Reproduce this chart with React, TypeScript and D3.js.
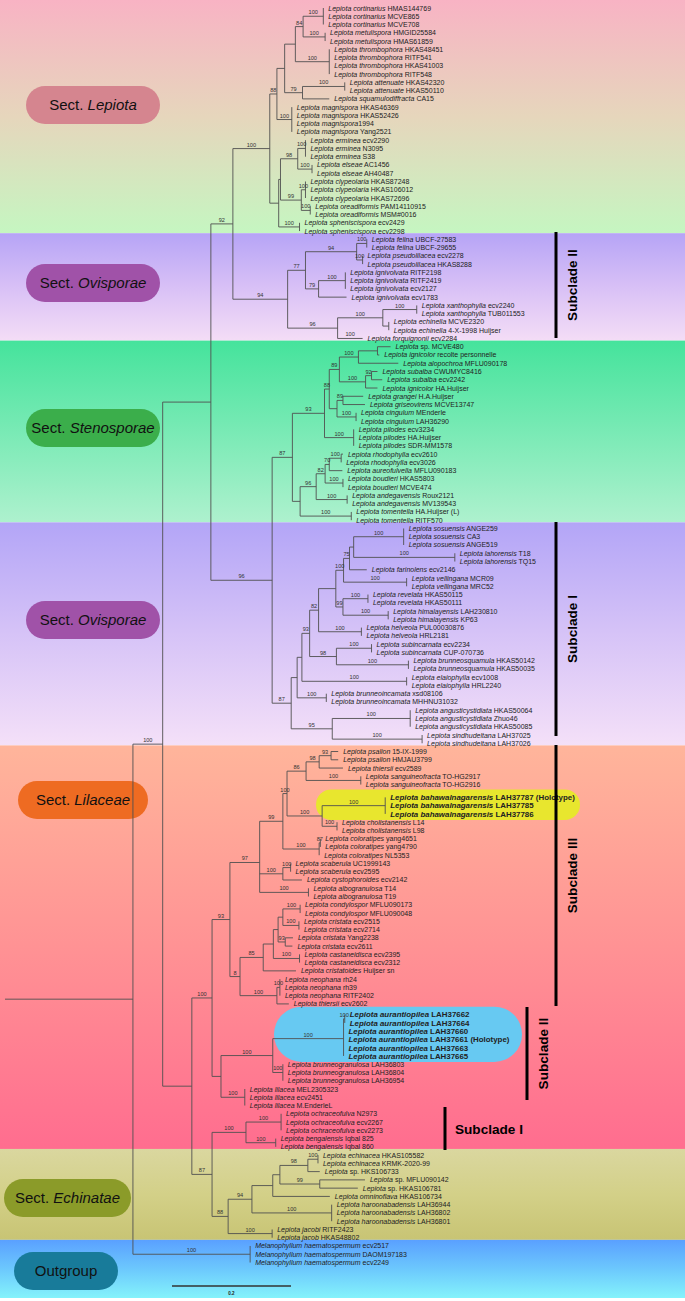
import React from "react";
import * as d3 from "d3";

// ---------------- DATA ----------------
// tip labels: [italic part, regular part]
const lepiotaTips: [string, string][] = [
  ["Lepiota cortinarius", " HMAS144769"], ["Lepiota cortinarius", " MCVE865"], ["Lepiota cortinarius", " MCVE708"],
  ["Lepiota metulispora", " HMGID25584"], ["Lepiota metulispora", " HMAS61859"],
  ["Lepiota thrombophora", " HKAS48451"], ["Lepiota thrombophora", " RITF541"], ["Lepiota thrombophora", " HKAS41003"], ["Lepiota thrombophora", " RITF548"],
  ["Lepiota attenuate", " HKAS42320"], ["Lepiota attenuate", " HKAS50110"], ["Lepiota squamulodiffracta", " CA15"],
  ["Lepiota magnispora", " HKAS46369"], ["Lepiota magnispora", " HKAS52426"], ["Lepiota magnispora", "1994"], ["Lepiota magnispora", " Yang2521"],
  ["Lepiota erminea", " ecv2290"], ["Lepiota erminea", " N3095"], ["Lepiota erminea", " S38"],
  ["Lepiota elseae", " AC1456"], ["Lepiota elseae", " AH40487"],
  ["Lepiota clypeolaria", " HKAS87248"], ["Lepiota clypeolaria", " HKAS106012"], ["Lepiota clypeolaria", " HKAS72696"],
  ["Lepiota oreadiformis", " PAM14110915"], ["Lepiota oreadiformis", " MSM#0016"],
  ["Lepiota spheniscispora", " ecv2429"], ["Lepiota spheniscispora", " ecv2298"],
];
const ovisporaeIITips: [string, string][] = [
  ["Lepiota felina", " UBCF-27583"], ["Lepiota felina", " UBCF-29655"],
  ["Lepiota pseudolilacea", " ecv2278"], ["Lepiota pseudolilacea", " HKAS8288"],
  ["Lepiota ignivolvata", " RITF2198"], ["Lepiota ignivolvata", " RITF2419"], ["Lepiota ignivolvata", " ecv2127"], ["Lepiota ignivolvata", " ecv1783"],
  ["Lepiota xanthophylla", " ecv2240"], ["Lepiota xanthophylla", " TUB011553"],
  ["Lepiota echinella", " MCVE2320"], ["Lepiota echinella", " 4-X-1998 Huijser"], ["Lepiota forquignonii", " ecv2284"],
];
const stenosporaeTips: [string, string][] = [
  ["Lepiota", " sp. MCVE480"], ["Lepiota ignicolor", " recolte personnelle"], ["Lepiota alopochroa", " MFLU090178"],
  ["Lepiota subalba", " CWUMYC8416"], ["Lepiota subalba", " ecv2242"], ["Lepiota ignicolor", " HA.Huijser"],
  ["Lepiota grangei", " H.A.Huijser"], ["Lepiota griseovirens", " MCVE13747"],
  ["Lepiota cingulum", " MEnderle"], ["Lepiota cingulum", " LAH36290"],
  ["Lepiota pilodes", " ecv3234"], ["Lepiota pilodes", " HA.Huijser"], ["Lepiota pilodes", " SDR-MM1578"],
  ["Lepiota rhodophylla", " ecv2610"], ["Lepiota rhodophylla", " ecv3026"], ["Lepiota aureofulvella", " MFLU090183"],
  ["Lepiota boudieri", " HKAS5803"], ["Lepiota boudieri", " MCVE474"],
  ["Lepiota andegavensis", " Roux2121"], ["Lepiota andegavensis", " MV139543"],
  ["Lepiota tomentella", " HA.Huijser (L)"], ["Lepiota tomentella", " RITF570"],
];
const ovisporaeITips: [string, string][] = [
  ["Lepiota sosuensis", " ANGE259"], ["Lepiota sosuensis", " CA3"], ["Lepiota sosuensis", " ANGE519"],
  ["Lepiota lahorensis", " T18"], ["Lepiota lahorensis", " TQ15"], ["Lepiota farinolens", " ecv2146"],
  ["Lepiota vellingana", " MCR09"], ["Lepiota vellingana", " MRC52"],
  ["Lepiota revelata", " HKAS50115"], ["Lepiota revelata", " HKAS50111"],
  ["Lepiota himalayensis", " LAH230810"], ["Lepiota himalayensis", " KP63"],
  ["Lepiota helveola", " PUL00030876"], ["Lepiota helveola", " HRL2181"],
  ["Lepiota subincarnata", " ecv2234"], ["Lepiota subincarnata", " CUP-070736"],
  ["Lepiota brunneosquamula", " HKAS50142"], ["Lepiota brunneosquamula", " HKAS50035"],
  ["Lepiota elaiophylla", " ecv1008"], ["Lepiota elaiophylla", " HRL2240"],
  ["Lepiota brunneoincamata", " xsd08106"], ["Lepiota brunneoincamata", " MHHNU31032"],
  ["Lepiota angusticystidiata", " HKAS50064"], ["Lepiota angusticystidiata", " Zhuo46"], ["Lepiota angusticystidiata", " HKAS50085"],
  ["Lepiota sindhudeltana", " LAH37025"], ["Lepiota sindhudeltana", " LAH37026"],
];
const lilaceaeTips: [string, string][] = [
  ["Lepiota psalion", " 15-IX-1999"], ["Lepiota psalion", " HMJAU3799"], ["Lepiota thiersii", " ecv2589"],
  ["Lepiota sanguineofracta", " TO-HG2917"], ["Lepiota sanguineofracta", " TO-HG2916"],
  ["Lepiota bahawalnagarensis", " LAH37787 (Holotype)"], ["Lepiota bahawalnagarensis", " LAH37785"], ["Lepiota bahawalnagarensis", " LAH37786"],
  ["Lepiota cholistanensis", " L14"], ["Lepiota cholistanensis", " L98"],
  ["Lepiota coloratipes", " yang4651"], ["Lepiota coloratipes", " yang4790"], ["Lepiota coloratipes", " NL5353"],
  ["Lepiota scaberula", " UC1999143"], ["Lepiota scaberula", " ecv2595"], ["Lepiota cystophoroides", " ecv2142"],
  ["Lepiota albogranulosa", " T14"], ["Lepiota albogranulosa", " T19"],
  ["Lepiota condylospor", " MFLU090173"], ["Lepiota condylospor", " MFLU090048"],
  ["Lepiota cristata", " ecv2515"], ["Lepiota cristata", " ecv2714"], ["Lepiota cristata", " Yang2238"], ["Lepiota cristata", " ecv2611"],
  ["Lepiota castaneidisca", " ecv2395"], ["Lepiota castaneidisca", " ecv2312"], ["Lepiota cristatoides", " Huijser sn"],
  ["Lepiota neophana", " rh24"], ["Lepiota neophana", " rh39"], ["Lepiota neophana", " RITF2402"], ["Lepiota thiersii", " ecv2602"],
  ["Lepiota aurantiopilea", " LAH37662"], ["Lepiota aurantiopilea", " LAH37664"], ["Lepiota aurantiopilea", " LAH37660"],
  ["Lepiota aurantiopilea", " LAH37661 (Holotype)"], ["Lepiota aurantiopilea", " LAH37663"], ["Lepiota aurantiopilea", " LAH37665"],
  ["Lepiota brunneogranulosa", " LAH36803"], ["Lepiota brunneogranulosa", " LAH36804"], ["Lepiota brunneogranulosa", " LAH36954"],
  ["Lepiota lilacea", " MEL2305323"], ["Lepiota lilacea", " ecv2451"], ["Lepiota lilacea", " M.EnderleL"],
  ["Lepiota ochraceofulva", " N2973"], ["Lepiota ochraceofulva", " ecv2267"], ["Lepiota ochraceofulva", " ecv2273"],
  ["Lepiota bengalensis", " Iqbal 825"], ["Lepiota bengalensis", " Iqbal 860"],
];
const echinataeTips: [string, string][] = [
  ["Lepiota echinacea", " HKAS105582"], ["Lepiota echinacea", " KRMK-2020-99"], ["Lepiota", " sp. HKS106733"],
  ["Lepiota", " sp. MFLU090142"], ["Lepiota", " sp. HKAS106781"], ["Lepiota omninoflava", " HKAS106734"],
  ["Lepiota haroonabadensis", " LAH36944"], ["Lepiota haroonabadensis", " LAH36802"], ["Lepiota haroonabadensis", " LAH36801"],
  ["Lepiota jacobi", " RITF2423"], ["Lepiota jacob", " HKAS48802"],
];
const outgroupTips: [string, string][] = [
  ["Melanophyllum haematospermum", " ecv2517"], ["Melanophyllum haematospermum", " DAOM197183"], ["Melanophyllum haematospermum", " ecv2249"],
];
const TIPS = [...lepiotaTips, ...ovisporaeIITips, ...stenosporaeTips, ...ovisporaeITips, ...lilaceaeTips, ...echinataeTips, ...outgroupTips];
const BOLD_TIPS = [95, 96, 97, 121, 122, 123, 124, 125, 126];
// extra blank space (in rows) inserted before some tips
const ROW_GAPS: [number, number][] = [[95, 0.55], [121, 0.3]];

// Clades: Newick with tip indices, support values and branch lengths (subst./site)
const cladeLepiota =
  "((((((0:0,1:0,2:0)100:0.034,(3:0,4:0)100:0.037)84:0.013,(5:0,6:0,7:0,8:0)100:0.057):0.018,((9:0,10:0)100:0.071,11:0.045)79:0.030):0.013,(12:0,13:0,14:0,15:0)100:0.025)88:0.012,((((16:0,17:0,18:0)100:0.013,(19:0,20:0)100:0.024)98:0.029,((21:0,22:0,23:0)100:0.007,(24:0,25:0)100:0.015)99:0.035):0.003,(26:0,27:0)100:0.035):0.015)100:0.062";
const cladeOvisporaeII =
  "((((28:0,29:0)100:0.017,(30:0,31:0)100:0.010)94:0.086,((32:0,33:0,34:0)100:0.045,35:0.047)79:0.022)77:0.030,(((36:0,37:0)100:0.057,(38:0,39:0):0.010)100:0.076,40/100:0.042)96:0.084)94:0.092";
const cladeStenosporae =
  "((((((41:0.022,42:0.003):0.032,43:0.067)100:0.032,((44:0.010,45:0.018)92:0.010,46:0.020)100:0.044)89:0.017,((47:0.034,48:0.037)89:0.010,(49:0,50:0)100:0.032):0.013)88:0.008,(51:0,52:0,53:0)100:0.049)93:0.054,(((((54:0.003,55:0)100:0.020,56:0.022)70:0.007,(57:0,58:0)100:0.030)82:0.015,(59:0,60:0)100:0.052)96:0.027,(61:0,62:0)100:0.086):0.013)87:0.034";
const cladeOvisporaeI =
  "((((((((((63:0,64:0,65:0)100:0.084,(66:0,67:0)100:0.170):0.007,68:0.029)75:0.010,(69:0,70:0)100:0.106)100:0.013,((71:0,72:0)100:0.042,(73:0,74:0)100:0.076)99:0.012):0.029,(75:0,76:0)100:0.072)82:0.015,((77:0,78:0)100:0.059,(79:0,80:0)100:0.121)98:0.045)93:0.013,(81:0,82:0)100:0.176):0.008,(83:0,84:0)100:0.049):0.010,((85:0,86:0,87:0)100:0.131,(88:0,89:0)100:0.151)95:0.069)87:0.032";
const cladeLilaceaeIII =
  "(((((((90:0.012,91:0.012)93:0.020,92:0.040)98:0.022,(93:0,94:0)100:0.092)86:0.032,((95:0,96:0,97:0)100:0.106,(98:0,99:0)100:0.025)100:0.059)100:0.007,((100:0,101:0)87:0.002,102:0)100:0.061)99:0.039,((103:0,104:0)100:0.013,105:0.032)100:0.039,(106:0,107:0)100:0.082)97:0.050,((((((108:0,109:0)100:0.029,(110:0,111:0)100:0.027):0.008,(112:0.013,113:0.012)93:0.012):0.008,(114:0,115:0)100:0.044):0.017,116:0.055)85:0.039,((117:0,118:0,119:0)100:0.005,120:0.020)100:0.062)8:0.017)93:0.030";
const cladeLilaceaeII =
  "((((121:0,122:0)100:0.002,123:0,124:0,125:0,126:0)100:0.119,(127:0,128:0,129:0)100:0.017)100:0.087,(130:0,131:0,132:0)100:0.040):0.015";
const cladeLilaceaeI = "((133:0,134:0,135:0)100:0.059,(136:0,137:0)100:0.050)100:0.057";
const cladeEchinatae =
  "((((((138:0,139:0)100:0.017,140:0.020)98:0.047,(141:0.076,142:0.064)99:0.067):0.012,143:0.096):0.035,(144:0,145:0,146:0)100:0.134)94:0.040,(147:0,148:0)100:0.074)88:0.027";
const cladeOutgroup = "(149:0,150:0,151:0)100:0.197";

const TREE =
  "(((" + "(" + cladeLepiota + "," + cladeOvisporaeII + ")92:0.037," +
  "(" + cladeStenosporae + "," + cladeOvisporaeI + ")96:0.103):0.081," +
  "((" + cladeLilaceaeIII + "," + cladeLilaceaeII + ")100:0.034," +
  "(" + cladeLilaceaeI + "," + cladeEchinatae + ")87:0.034):0.049)100:0.050," +
  cladeOutgroup + "):0.215;";

// Sections (background bands and labels)
const SECTIONS = [
  { pre: "Sect. ", name: "Lepiota", first: 0, last: 27, top: "#f8b3c4", mid: "#e6d6bc", bottom: "#c5f6c1", pill: "#d5858f" },
  { pre: "Sect. ", name: "Ovisporae", first: 28, last: 40, top: "#b6a4f6", mid: "#d8c0f6", bottom: "#f4ddf6", pill: "#a052a8" },
  { pre: "Sect. ", name: "Stenosporae", first: 41, last: 62, top: "#45e39c", mid: "#79eab5", bottom: "#aef1ce", pill: "#3bae4b" },
  { pre: "Sect. ", name: "Ovisporae", first: 63, last: 89, top: "#b3a5f7", mid: "#d6c3f7", bottom: "#f4e0f8", pill: "#a052a8" },
  { pre: "Sect. ", name: "Lilaceae", first: 90, last: 137, top: "#ffb59b", mid: "#ff9294", bottom: "#ff6d8f", pill: "#ee6b22" },
  { pre: "Sect. ", name: "Echinatae", first: 138, last: 148, top: "#dad79f", mid: "#d3d088", bottom: "#c8c474", pill: "#8b9b29" },
  { pre: "", name: "Outgroup", first: 149, last: 151, top: "#5aa0ff", mid: "#6cc8fd", bottom: "#84f3fb", pill: "#187b9a" },
];
const SUBCLADES = [
  { label: "Subclade II", first: 28, last: 40, vertical: true },
  { label: "Subclade I", first: 63, last: 89, vertical: true },
  { label: "Subclade III", first: 90, last: 120, vertical: true },
  { label: "Subclade II", first: 121, last: 132, vertical: true },
  { label: "Subclade I", first: 133, last: 137, vertical: false },
];
const HIGHLIGHTS = [
  { first: 95, last: 97, color: "#e8e62e" },
  { first: 121, last: 126, color: "#67c9f2" },
];
const SCALE_BAR = 0.2;

// ---------------- LAYOUT CONSTANTS ----------------
const W = 685, H = 1301;
const FONT = "'Liberation Sans', Arial, Helvetica, sans-serif";
const PILL_BOX = [
  { x0: 26, x1: 160, cy: 105 }, { x0: 26, x1: 160, cy: 283 }, { x0: 26, x1: 160, cy: 428 },
  { x0: 26, x1: 160, cy: 620 }, { x0: 18, x1: 148, cy: 800 }, { x0: 4, x1: 131, cy: 1198 },
  { x0: 14, x1: 118, cy: 1271 },
];
const SUB_BOX = [
  { x: 556, y0: 232, y1: 338 }, { x: 556, y0: 522, y1: 736 }, { x: 556, y0: 745, y1: 1006 },
  { x: 527, y0: 1007, y1: 1100 }, { x: 445, y0: 1107, y1: 1150 },
];
const HL_BOX = [{ x0: 316, x1: 580 }, { x0: 274, x1: 522 }];

type TNode = { children: TNode[]; tip: number; support: string; length: number };

function parseNewick(s: string): TNode {
  let i = 0;
  const stop = ":,();";
  function readLabel() {
    let l = "";
    while (i < s.length && !stop.includes(s[i])) l += s[i++];
    return l.trim();
  }
  function node(): TNode {
    const n: TNode = { children: [], tip: -1, support: "", length: 0 };
    if (s[i] === "(") {
      i++;
      n.children.push(node());
      while (s[i] === ",") { i++; n.children.push(node()); }
      i++;
      n.support = readLabel();
    } else {
      const [t, sup] = readLabel().split("/");
      n.tip = +t;
      n.support = sup || "";
    }
    if (s[i] === ":") { i++; n.length = +readLabel(); }
    return n;
  }
  return node();
}

export default function App() {
  const root = d3.hierarchy(parseNewick(TREE), (d) => (d.children.length ? d.children : null));
  const depth = new Map<any, number>();
  root.eachBefore((n: any) => depth.set(n, (n.parent ? depth.get(n.parent)! : 0) + n.data.length));

  const x = d3.scaleLinear().domain([0, 1]).range([5, 600]);
  const slots: number[] = [];
  let acc = 0;
  TIPS.forEach((_, i) => {
    const g = ROW_GAPS.find((r) => r[0] === i);
    if (g) acc += g[1];
    slots.push(i + acc);
  });
  const y = d3.scaleLinear().domain([0, slots[slots.length - 1]]).range([8, 1262.5]);
  const tipY = (i: number) => y(slots[i]);

  const ypos = new Map<any, number>();
  root.eachAfter((n: any) => {
    if (!n.children) ypos.set(n, tipY(n.data.tip));
    else ypos.set(n, d3.mean(n.children, (c: any) => ypos.get(c)!)!);
  });

  const nodes = root.descendants();
  const lineColor = "#505050";

  const bands = SECTIONS.map((s, k) => {
    const top = k === 0 ? 0 : (tipY(SECTIONS[k - 1].last) + tipY(s.first)) / 2 - 2;
    const bottom = k === SECTIONS.length - 1 ? 1298 : (tipY(s.last) + tipY(SECTIONS[k + 1].first)) / 2 - 2;
    return { ...s, top0: top, bottom0: bottom };
  });

  const rootY = ypos.get(root)!;

  return (
    <div style={{ position: "absolute", left: 0, top: 0, width: W, height: H, background: "#fff" }}>
      <svg width={W} height={H} style={{ display: "block", fontFamily: FONT }}>
        <defs>
          {bands.map((b, k) => (
            <linearGradient key={k} id={"band" + k} x1="0" y1="0" x2="0" y2="1">
              <stop offset="0%" stopColor={b.top} />
              <stop offset="50%" stopColor={b.mid} />
              <stop offset="100%" stopColor={b.bottom} />
            </linearGradient>
          ))}
        </defs>
        {bands.map((b, k) => (
          <rect key={k} x={0} y={b.top0} width={W} height={b.bottom0 - b.top0} fill={`url(#band${k})`} />
        ))}

        {HIGHLIGHTS.map((h, k) => {
          const y0 = tipY(h.first) - 8, y1 = tipY(h.last) + 6;
          return <rect key={k} x={HL_BOX[k].x0} y={y0} width={HL_BOX[k].x1 - HL_BOX[k].x0} height={y1 - y0} rx={(y1 - y0) / 2} fill={h.color} />;
        })}

        {bands.map((b, k) => {
          const p = PILL_BOX[k];
          const h = 38;
          return (
            <g key={k}>
              <rect x={p.x0} y={p.cy - h / 2} width={p.x1 - p.x0} height={h} rx={h / 2} fill={b.pill} />
              <text x={(p.x0 + p.x1) / 2} y={p.cy + 5} textAnchor="middle" fontSize={15} fill="#111" style={{ whiteSpace: "pre" }}>
                {b.pre ? <tspan>{b.pre}</tspan> : null}
                <tspan fontStyle={b.pre ? "italic" : "normal"}>{b.name}</tspan>
              </text>
            </g>
          );
        })}

        <g stroke={lineColor} strokeWidth={0.9} fill="none">
          <line x1={x(0)} x2={x(depth.get(root)!)} y1={rootY} y2={rootY} />
          {nodes.map((n: any, k) => {
            const nx = x(depth.get(n)!), ny = ypos.get(n)!;
            const els = [] as any[];
            if (n.parent) {
              els.push(<line key={"h" + k} x1={x(depth.get(n.parent)!)} x2={nx} y1={ny} y2={ny} />);
            }
            if (n.children) {
              const ys = n.children.map((c: any) => ypos.get(c)!);
              els.push(<line key={"v" + k} x1={nx} x2={nx} y1={d3.min(ys)!} y2={d3.max(ys)!} />);
            }
            return els;
          })}
        </g>

        <g fontSize={5.6} fill="#333" textAnchor="middle">
          {nodes.filter((n: any) => n.parent && n.data.support).map((n: any, k) => {
            const nx = x(depth.get(n)!), px = x(depth.get(n.parent)!), ny = ypos.get(n)!;
            return <text key={k} x={(nx + px) / 2} y={ny - 2}>{n.data.support}</text>;
          })}
        </g>

        <g fill="#222">
          {root.leaves().map((n: any, k) => {
            const i = n.data.tip;
            const bold = BOLD_TIPS.includes(i);
            const [it, rg] = TIPS[i];
            return (
              <text key={k} x={x(depth.get(n)!) + 5} y={tipY(i) + (bold ? 2.8 : 2.5)} fontSize={bold ? 7.9 : 7} fontWeight={bold ? "bold" : "normal"} style={{ whiteSpace: "pre" }}>
                <tspan fontStyle="italic">{it}</tspan>
                <tspan>{rg}</tspan>
              </text>
            );
          })}
        </g>

        {SUBCLADES.map((s, k) => {
          const b = SUB_BOX[k];
          const cy = (b.y0 + b.y1) / 2;
          return (
            <g key={k}>
              <line x1={b.x} x2={b.x} y1={b.y0} y2={b.y1} stroke="#000" strokeWidth={3} />
              {s.vertical ? (
                <text transform={`translate(${b.x + 21},${cy}) rotate(-90)`} textAnchor="middle" fontSize={13.6} fontWeight="bold" fill="#000">{s.label}</text>
              ) : (
                <text x={b.x + 10} y={cy + 5} fontSize={13.6} fontWeight="bold" fill="#000">{s.label}</text>
              )}
            </g>
          );
        })}

        <line x1={x(0) + 167} x2={x(0) + 167 + (x(SCALE_BAR) - x(0))} y1={1286} y2={1286} stroke="#333" strokeWidth={1.3} />
        <text x={x(0) + 167 + (x(SCALE_BAR) - x(0)) / 2} y={1295} textAnchor="middle" fontSize={4.5} fontWeight="bold" fill="#222">{SCALE_BAR}</text>
      </svg>
    </div>
  );
}
